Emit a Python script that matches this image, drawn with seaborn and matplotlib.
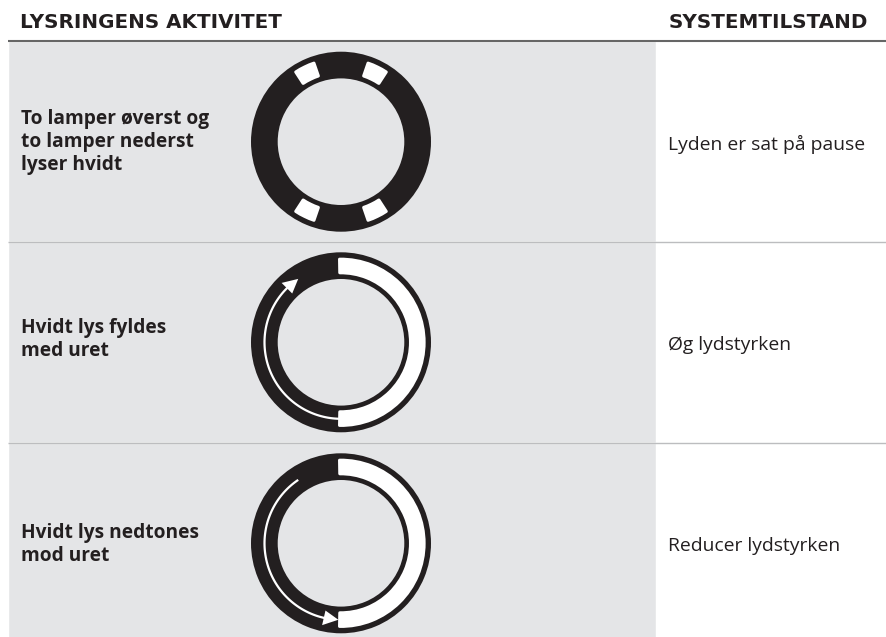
import numpy as np
import pandas as pd
import seaborn as sns
import matplotlib.pyplot as plt
from matplotlib.patches import Wedge, Polygon

# table content
col_titles = ["LYSRINGENS AKTIVITET", "SYSTEMTILSTAND"]
activities = ["To lamper øverst og\nto lamper nederst\nlyser hvidt",
              "Hvidt lys fyldes\nmed uret",
              "Hvidt lys nedtones\nmod uret"]
states = ["Lyden er sat på pause", "Øg lydstyrken", "Reducer lydstyrken"]
panel_widths = [648, 648, 648]

# light ring drawing, angles in degrees clockwise on screen
lamp_angles = [64, 116, 244, 296]
lit_arc = [-91, 91]
arrow_sweeps = [None, [91, 236], [236, 92]]

INK = "#231f20"
GRAY = "#e4e5e7"

sns.set_theme(style="white")
plt.rcParams['font.family'] = ['Open Sans', 'DejaVu Sans']

fig = plt.figure(figsize=(8.86, 6.37), dpi=100)

# rows are 201 px high, the last one is cut off by the figure edge
ax = fig.add_axes([8 / 886, (637 - 41 - 603) / 637, 878 / 886, 603 / 637])
df = pd.DataFrame({"activity": activities, "width": panel_widths})
sns.barplot(data=df, x="width", y="activity", orient="h", width=1, color=GRAY,
            saturation=1, ax=ax)
ax.set_xlim(0, 878)
ax.set_ylim(2.5, -0.5)
ax.hlines([0.5, 1.5], 0, 878, color="#bcbdbf", lw=1)
ax.set_axis_off()

# overlay in pixels for the rings and texts
ov = fig.add_axes([0, 0, 1, 1])
ov.set_xlim(0, 886)
ov.set_ylim(637, 0)
ov.set_axis_off()
ov.patch.set_alpha(0)

ov.plot([8, 886], [40.7, 40.7], color="#666666", lw=1.5, solid_capstyle="butt")

ring_x = 341
ring_y = [141.7, 342.3, 543.3]
label_y = [142, 339.5, 544.5]
R_OUT, R_IN = 90, 63.3
R_LIT_OUT, R_LIT_IN = 84.6, 68
R_ARROW = 76.5


def polar(cy, ang, r):
    a = np.radians(ang)
    return ring_x + r * np.cos(a), cy + r * np.sin(a)


def lit(cy, t1, t2):
    # wide round stroke gives the soft corners of the lamps
    ov.add_patch(Wedge((ring_x, cy), R_LIT_OUT - 1.5, t1, t2, width=R_LIT_OUT - R_LIT_IN - 3,
                       fc="white", ec="white", lw=2.2, joinstyle="round"))


for i, cy in enumerate(ring_y):
    ov.add_patch(Wedge((ring_x, cy), R_OUT, 0, 360, width=R_OUT - R_IN, fc=INK, ec="none"))
    if i == 0:
        for a in lamp_angles:
            lit(cy, a - 7, a + 7)
    else:
        lit(cy, lit_arc[0], lit_arc[1])
        start, end = arrow_sweeps[i]
        sgn = 1 if end > start else -1
        head = 11
        th = np.linspace(start, end - sgn * head + sgn * 2, 80)
        xs, ys = polar(cy, th, R_ARROW)
        ov.plot(xs, ys, color="white", lw=1.6, solid_capstyle="butt")
        tip = polar(cy, end, R_ARROW)
        b1 = polar(cy, end - sgn * head, R_ARROW - 7.5)
        b2 = polar(cy, end - sgn * head, R_ARROW + 7.5)
        ov.add_patch(Polygon([tip, b1, b2], closed=True, fc="white", ec="none"))

# texts, the wide bold headers come closest in DejaVu
ov.text(20, 22.5, col_titles[0], fontsize=14.3, fontweight="bold", family="DejaVu Sans",
        color=INK, va="center", ha="left")
ov.text(669, 22.5, col_titles[1], fontsize=14.3, fontweight="bold", family="DejaVu Sans",
        color=INK, va="center", ha="left")
for cy, ly, a, s in zip(ring_y, label_y, activities, states):
    ov.text(21, ly, a, fontsize=13.8, fontweight="bold", color=INK, va="center", ha="left",
            linespacing=1.18)
    ov.text(668, cy + 3, s, fontsize=13.85, color=INK, va="center", ha="left")

fig.savefig("out.png", dpi=100)
